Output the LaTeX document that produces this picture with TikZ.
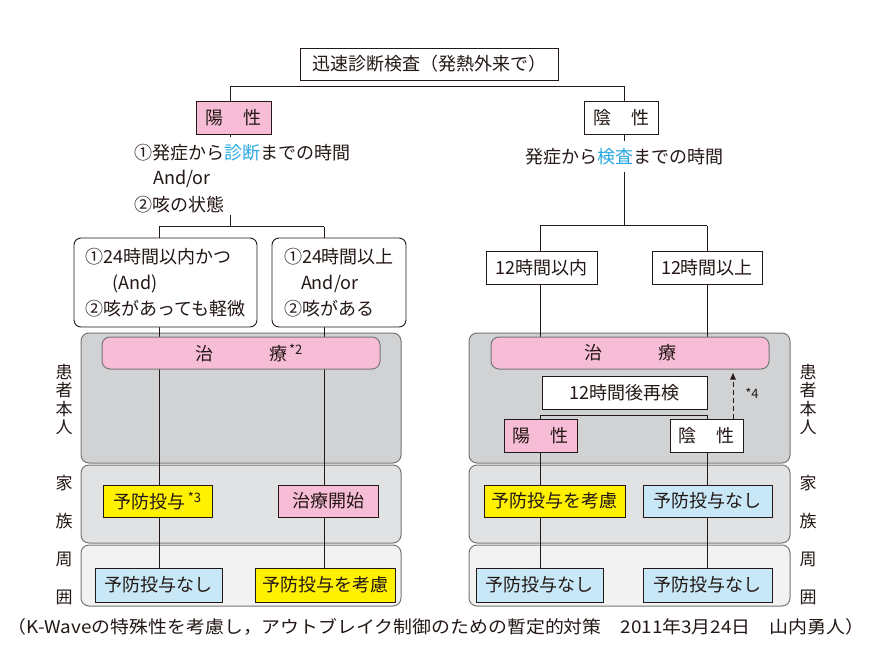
\documentclass[tikz,border=0pt]{standalone}
\usepackage{fontspec}
\setmainfont{Noto Sans CJK JP}
\usetikzlibrary{backgrounds,arrows.meta}
\definecolor{ink}{HTML}{231815}
\definecolor{pinkc}{HTML}{F7BDD7}
\definecolor{yellowc}{HTML}{FFF100}
\definecolor{bluec}{HTML}{C8E8F7}
\definecolor{cyantext}{HTML}{29A9E1}
\definecolor{panelA}{HTML}{D1D2D4}
\definecolor{panelB}{HTML}{E1E2E4}
\definecolor{panelC}{HTML}{F2F2F2}
\definecolor{panelline}{HTML}{777777}
\newcommand{\supstar}[1]{{\fontsize{13}{13}\selectfont\hspace{2pt}\raisebox{6pt}{*#1}}}
\tikzset{
  box/.style={draw=ink, line width=0.9pt, minimum height=33pt, inner sep=0pt, text=ink},
  rbox/.style={draw=ink, line width=0.9pt, rounded corners=7pt, inner sep=0pt, align=left, text=ink, minimum height=89pt},
  treat/.style={draw=panelline, fill=pinkc, line width=1pt, rounded corners=8pt, minimum height=32pt, inner sep=0pt, text=ink},
  panel/.style={draw=panelline, line width=1pt, rounded corners=8pt, inner sep=0pt},
  conn/.style={draw=ink, line width=1pt},
  plain/.style={inner sep=0pt, text=ink},
  side/.style={inner sep=0pt, text=ink, align=center}
}
\begin{document}
\begin{tikzpicture}[x=1pt,y=-1pt,font=\fontsize{18}{26}\selectfont]
\useasboundingbox (0,0) rectangle (887,666);
% top
\node[box, minimum width=258pt, minimum height=32pt] (top) at (429,64) {迅速診断検査（発熱外来で）};
\node[box, fill=pinkc, minimum width=75pt] (posL) at (233.5,117.5) {陽\hspace{20pt}性};
\node[box, fill=white, minimum width=74pt] (negR) at (621,117.5) {陰\hspace{20pt}性};
% left question text
\node[plain, anchor=west] (q1) at (134,153) {①発症から\textcolor{cyantext}{診断}までの時間};
\node[plain, anchor=west] (q2) at (153,179) {And/or};
\node[plain, anchor=west] (q3) at (134,205) {②咳の状態};
% right question text
\node[plain] (qr) at (624,157) {発症から\textcolor{cyantext}{検査}までの時間};
% left condition boxes
\node[rbox, fill=white, minimum width=183pt] (cL1) at (165.5,282.5) {①24時間以内かつ\\\hspace{27pt}(And)\\②咳があっても軽微};
\node[rbox, fill=white, minimum width=134pt] (cL2) at (339,282.5) {①24時間以上\\\hspace{17pt}And/or\\②咳がある};
% right condition boxes
\node[box, fill=white, minimum width=111pt] (r1) at (541.5,267.5) {12時間以内};
\node[box, fill=white, minimum width=110pt] (r2) at (707,267.5) {12時間以上};
% treatment
\node[treat, minimum width=278pt] (trL) at (241,353) {治\hspace{56pt}療\rlap{\supstar{2}}};
\node[treat, minimum width=278pt] (trR) at (630,353) {治\hspace{56pt}療};
\node[box, fill=white, minimum width=165pt] (re) at (624.5,392.5) {12時間後再検};
\node[box, fill=pinkc, minimum width=73pt] (posR2) at (540.5,435.5) {陽\hspace{20pt}性};
\node[box, fill=white, minimum width=73pt] (negR2) at (706.5,435.5) {陰\hspace{20pt}性};
\node[plain, font=\fontsize{13}{13}\selectfont] (s4) at (752,393) {*4};
% family
\node[box, fill=yellowc, minimum width=109pt, minimum height=32pt] (fL1) at (157.5,501) {予防投与\supstar{3}};
\node[box, fill=pinkc, minimum width=100pt, minimum height=32pt] (fL2) at (328,501) {治療開始};
\node[box, fill=yellowc, minimum width=141pt, minimum height=32pt] (fR1) at (554.5,501) {予防投与を考慮};
\node[box, fill=bluec, minimum width=129pt, minimum height=32pt] (fR2) at (707.5,501) {予防投与なし};
% surroundings
\node[box, fill=bluec, minimum width=127pt, minimum height=34pt] (bL1) at (158.5,585) {予防投与なし};
\node[box, fill=yellowc, minimum width=140pt, minimum height=34pt] (bL2) at (325,585) {予防投与を考慮};
\node[box, fill=bluec, minimum width=127pt, minimum height=34pt] (bR1) at (539.5,585) {予防投与なし};
\node[box, fill=bluec, minimum width=129pt, minimum height=34pt] (bR2) at (707.5,585) {予防投与なし};
% side labels
\node[side, font=\fontsize{17}{18.5}\selectfont] (sL1) at (64,399.5) {患\\者\\本\\人};
\node[side, font=\fontsize{17}{38}\selectfont] (sL2) at (64,540) {家\\族\\周\\囲};
\node[side, font=\fontsize{17}{18.5}\selectfont] (sR1) at (808,399.5) {患\\者\\本\\人};
\node[side, font=\fontsize{17}{38}\selectfont] (sR2) at (808,540) {家\\族\\周\\囲};
% footnote
\node[plain, font=\fontsize{17.5}{17.5}\selectfont] (note) at (436,627) {\scalebox{1.08}[1]{（K-Waveの特殊性を考慮し，アウトブレイク制御のための暫定的対策　2011年3月24日　山内勇人）}};

\begin{pgfonlayer}{background}
\fill[white] (0,0) rectangle (887,666);
% panels
\node[panel, fill=panelA, minimum width=320pt, minimum height=130pt] (pL1) at (241,398) {};
\node[panel, fill=panelB, minimum width=320pt, minimum height=78pt] (pL2) at (241,504) {};
\node[panel, fill=panelC, minimum width=320pt, minimum height=61pt] (pL3) at (241,575.5) {};
\node[panel, fill=panelA, minimum width=321pt, minimum height=130pt] (pR1) at (629.5,398) {};
\node[panel, fill=panelB, minimum width=321pt, minimum height=78pt] (pR2) at (629.5,504) {};
\node[panel, fill=panelC, minimum width=321pt, minimum height=61pt] (pR3) at (629.5,575.5) {};
% connectors
\coordinate (tL) at (230,87);
\coordinate (tR) at (624,87);
\draw[conn] (posL.north -| tL) -- (tL) -- (tR) -- (negR.north -| tR);
\coordinate (aL) at (230,137);
\draw[conn] (posL.south -| tL) -- (aL);
\coordinate (bL) at (230,215);
\coordinate (hL) at (230,227);
\coordinate (hL1) at (159,227);
\coordinate (hL2) at (324,227);
\draw[conn] (bL) -- (hL);
\draw[conn] (hL1) -- (hL2);
\draw[conn] (hL1) -- (hL1 |- cL1.north);
\draw[conn] (hL2) -- (hL2 |- cL2.north);
\draw[conn] (hL1 |- cL1.south) -- (hL1 |- bL1.north);
\draw[conn] (hL2 |- cL2.south) -- (hL2 |- bL2.north);
% right
\coordinate (aR) at (624,141);
\draw[conn] (negR.south -| tR) -- (aR);
\coordinate (bR) at (624,172);
\coordinate (hR) at (624,226);
\coordinate (hR1) at (540,226);
\coordinate (hR2) at (707,226);
\draw[conn] (bR) -- (hR);
\draw[conn] (hR1) -- (hR2);
\draw[conn] (hR1) -- (hR1 |- r1.north);
\draw[conn] (hR2) -- (hR2 |- r2.north);
\draw[conn] (hR1 |- r1.south) -- (hR1 |- trR.north);
\draw[conn] (hR2 |- r2.south) -- (hR2 |- trR.north);
\coordinate (kR1) at (540,415);
\coordinate (kR2) at (707,415);
\draw[conn] (kR1 |- posR2.north) -- (kR1) -- (kR2) -- (kR2 |- negR2.north);
\draw[conn] (kR1 |- posR2.south) -- (kR1 |- bR1.north);
\draw[conn] (kR2 |- negR2.south) -- (kR2 |- bR2.north);
\coordinate (dR) at (733,419);
\end{pgfonlayer}
\draw[draw=ink, line width=0.9pt, dash pattern=on 5pt off 3pt, -{Latex[length=7pt,width=6pt]}, shorten >=3pt] (dR |- negR2.north) -- (dR |- trR.south);
\end{tikzpicture}
\end{document}
